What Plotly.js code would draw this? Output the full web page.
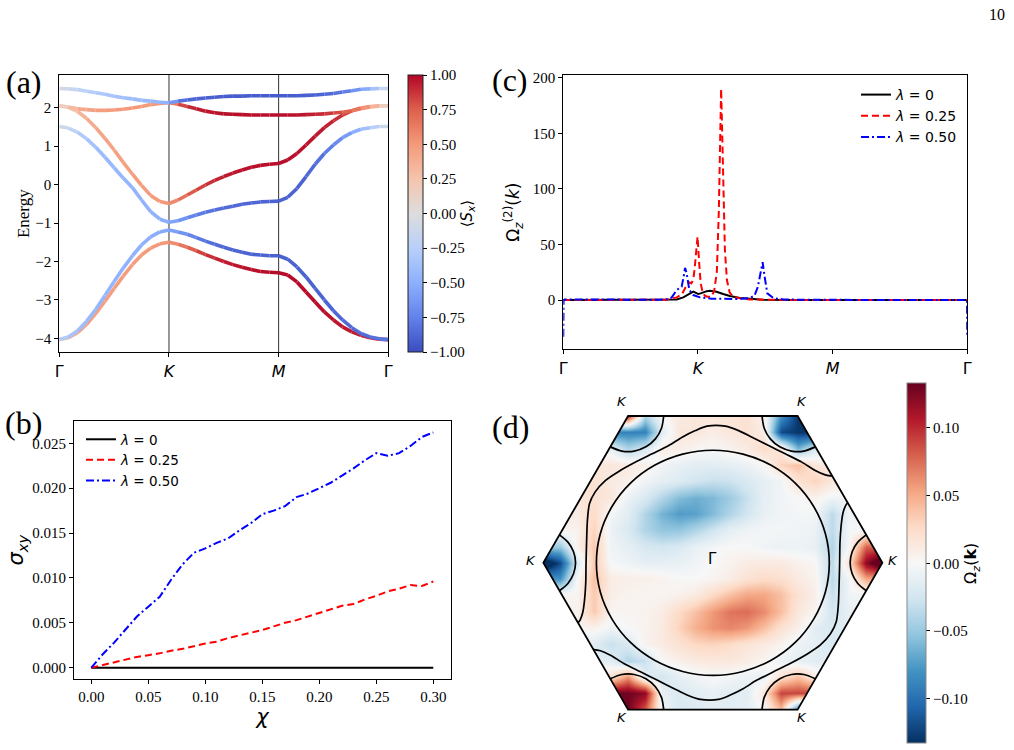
<!DOCTYPE html>
<html><head><meta charset="utf-8">
<script src="https://cdn.plot.ly/plotly-3.0.1.min.js"></script>
<style>html,body{margin:0;padding:0;background:#fff}#chart{width:1014px;height:750px}</style>
</head><body><div id="chart"></div>
<script>
// ---------- (a) band structure ----------
const kPath = [0,0.083,0.167,0.25,0.333,0.417,0.5,0.583,0.667,0.75,0.833,0.917,1,1.083,1.167,1.25,1.333,1.417,1.5,1.583,1.667,1.75,1.833,1.917,2,2.083,2.167,2.25,2.333,2.417,2.5,2.583,2.667,2.75,2.833,2.917,3];
const symPoints = [0,1,2,3];
const symLabels = ['Γ','<i>K</i>','<i>M</i>','Γ'];
const band1E = [-4.03,-3.98,-3.85,-3.63,-3.35,-3.03,-2.70,-2.38,-2.08,-1.83,-1.65,-1.54,-1.50,-1.55,-1.63,-1.72,-1.82,-1.91,-2.00,-2.08,-2.15,-2.21,-2.26,-2.28,-2.29,-2.35,-2.53,-2.79,-3.05,-3.31,-3.52,-3.70,-3.83,-3.92,-3.98,-4.02,-4.03];
const band1S = [0.30,0.38,0.42,0.45,0.46,0.47,0.47,0.48,0.48,0.49,0.50,0.50,0.52,0.60,0.70,0.80,0.86,0.90,0.93,0.95,0.96,0.97,0.97,0.98,0.98,0.98,0.98,0.98,0.97,0.97,0.96,0.95,0.94,0.93,0.92,0.90,0.85];
const band2E = [-4.03,-3.96,-3.80,-3.55,-3.24,-2.88,-2.52,-2.17,-1.85,-1.57,-1.36,-1.23,-1.18,-1.23,-1.29,-1.38,-1.47,-1.55,-1.63,-1.70,-1.76,-1.81,-1.83,-1.85,-1.85,-1.94,-2.14,-2.40,-2.70,-3.00,-3.28,-3.52,-3.72,-3.87,-3.96,-4.01,-4.03];
const band2S = [-0.25,-0.32,-0.38,-0.42,-0.44,-0.45,-0.46,-0.47,-0.48,-0.49,-0.50,-0.52,-0.55,-0.62,-0.70,-0.77,-0.82,-0.85,-0.87,-0.88,-0.89,-0.90,-0.90,-0.90,-0.90,-0.90,-0.90,-0.90,-0.89,-0.89,-0.88,-0.87,-0.86,-0.85,-0.84,-0.82,-0.80];
const band3E = [1.51,1.47,1.36,1.19,0.97,0.71,0.44,0.17,-0.08,-0.40,-0.70,-0.90,-0.98,-0.94,-0.86,-0.79,-0.72,-0.66,-0.61,-0.56,-0.51,-0.48,-0.45,-0.44,-0.43,-0.33,-0.10,0.21,0.53,0.81,1.03,1.22,1.35,1.44,1.48,1.51,1.51];
const band3S = [-0.08,-0.15,-0.25,-0.33,-0.38,-0.42,-0.44,-0.45,-0.46,-0.47,-0.48,-0.50,-0.52,-0.62,-0.70,-0.76,-0.80,-0.83,-0.85,-0.86,-0.87,-0.88,-0.88,-0.89,-0.90,-0.90,-0.90,-0.88,-0.85,-0.80,-0.74,-0.66,-0.56,-0.45,-0.32,-0.18,-0.08];
const band4E = [2.05,2.01,1.90,1.72,1.48,1.20,0.90,0.58,0.27,-0.02,-0.28,-0.44,-0.49,-0.40,-0.27,-0.14,-0.01,0.11,0.21,0.30,0.38,0.45,0.50,0.53,0.55,0.64,0.81,1.03,1.26,1.48,1.66,1.81,1.92,1.99,2.03,2.05,2.05];
const band4S = [0.08,0.18,0.30,0.38,0.42,0.44,0.45,0.46,0.47,0.48,0.49,0.50,0.52,0.62,0.72,0.80,0.86,0.90,0.93,0.95,0.96,0.97,0.97,0.97,0.97,0.97,0.97,0.96,0.95,0.93,0.90,0.86,0.78,0.65,0.48,0.28,0.08];
const band5E = [2.05,2.02,1.97,1.95,1.93,1.93,1.94,1.96,1.99,2.03,2.08,2.11,2.13,2.09,2.03,1.97,1.91,1.87,1.84,1.83,1.82,1.81,1.81,1.81,1.81,1.81,1.81,1.82,1.83,1.84,1.86,1.88,1.92,1.97,2.02,2.04,2.05];
const band5S = [0.08,0.25,0.38,0.44,0.47,0.48,0.49,0.50,0.50,0.50,0.50,0.50,0.50,0.75,0.88,0.93,0.95,0.96,0.97,0.97,0.97,0.97,0.97,0.97,0.97,0.97,0.96,0.94,0.92,0.88,0.84,0.78,0.70,0.60,0.45,0.25,0.08];
const band6E = [2.50,2.49,2.47,2.43,2.39,2.35,2.30,2.26,2.23,2.19,2.17,2.14,2.13,2.17,2.20,2.23,2.25,2.27,2.29,2.30,2.30,2.31,2.31,2.31,2.31,2.31,2.31,2.32,2.33,2.35,2.37,2.41,2.44,2.48,2.49,2.50,2.50];
const band6S = [-0.06,-0.12,-0.18,-0.24,-0.28,-0.32,-0.35,-0.38,-0.40,-0.42,-0.44,-0.46,-0.48,-0.80,-0.86,-0.89,-0.90,-0.91,-0.92,-0.92,-0.92,-0.92,-0.92,-0.92,-0.92,-0.92,-0.92,-0.91,-0.90,-0.88,-0.85,-0.80,-0.72,-0.60,-0.45,-0.25,-0.06];
const spinTicks = [-1,-0.75,-0.5,-0.25,0,0.25,0.5,0.75,1];

// ---------- (b) sigma_xy ----------
const chi = [0,0.01,0.02,0.03,0.04,0.05,0.06,0.07,0.08,0.09,0.10,0.11,0.12,0.13,0.14,0.15,0.16,0.17,0.18,0.19,0.20,0.21,0.22,0.23,0.24,0.25,0.26,0.27,0.28,0.29,0.30];
const sigmaL0 = [0,0,0,0,0,0,0,0,0,0,0,0,0,0,0,0,0,0,0,0,0,0,0,0,0,0,0,0,0,0,0];
const sigmaL25 = [0,0.0003,0.0006,0.0009,0.0012,0.0014,0.0016,0.0019,0.0021,0.0024,0.0027,0.0029,0.0033,0.0036,0.0039,0.0042,0.0046,0.0050,0.0053,0.0057,0.0061,0.0065,0.0069,0.0071,0.0076,0.0080,0.0085,0.0088,0.0092,0.0091,0.0096];
const sigmaL50 = [0,0.0015,0.0028,0.0042,0.0057,0.0068,0.0079,0.0098,0.0115,0.0128,0.0133,0.0139,0.0144,0.0153,0.0161,0.0171,0.0175,0.0180,0.0190,0.0194,0.0200,0.0206,0.0214,0.0222,0.0231,0.0239,0.0236,0.0239,0.0247,0.0257,0.0262];
const chiTicks = [0,0.05,0.10,0.15,0.20,0.25,0.30];
const sigmaTicks = [0,0.005,0.010,0.015,0.020,0.025];

// ---------- (c) Omega_z^(2)(k) ----------
const omL0x = [0,0.4,0.8,0.842,0.891,0.941,0.965,0.985,1.002,1.02,1.039,1.065,1.088,1.115,1.138,1.187,1.237,1.311,1.386,1.485,1.7,2.2,2.6,3.0];
const omL0y = [0,0,0.1,0.6,2.4,6.0,7.5,6.5,5.4,6.0,6.9,8.0,8.4,8.0,7.5,5.4,3.6,1.8,0.9,0.3,0.1,0,0,0];
const omL25x = [0,0.4,0.7,0.768,0.842,0.88,0.91,0.935,0.95,0.965,0.975,0.985,0.997,1.008,1.02,1.035,1.05,1.07,1.1,1.12,1.14,1.155,1.165,1.172,1.18,1.19,1.2,1.215,1.235,1.26,1.3,1.386,1.5,2.0,2.5,3.0];
const omL25y = [0,0,0.1,0.3,2.4,5,12,16,15,18,28,42,57,35,15,7,4,3,3,8,25,80,150,190,150,85,45,18,7,3,1.8,0.6,0.2,0,0,0];
const omL50x = [0,0.002,0.01,0.4,0.7,0.78,0.805,0.842,0.879,0.895,0.904,0.916,0.936,0.965,1.015,1.1,1.187,1.3,1.386,1.42,1.445,1.466,1.48,1.495,1.515,1.56,1.634,1.8,2.2,2.6,2.99,2.998,3.0];
const omL50y = [-33,0,0.5,0.3,0.3,0.8,2.4,9,12,22,29,24,9,4.5,2.4,1.2,0.9,1.0,1.8,4,12,24,34,21,6,1.8,0.6,0.2,0,0,0,0,-33];
const omTicks = [0,50,100,150,200];
const lambdaNames = ['<i>λ</i> = 0','<i>λ</i> = 0.25','<i>λ</i> = 0.50'];

// ---------- (d) Berry curvature map ----------
const kxGrid = [-1,-0.9,-0.8,-0.7,-0.6,-0.5,-0.4,-0.3,-0.2,-0.1,0,0.1,0.2,0.3,0.4,0.5,0.6,0.7,0.8,0.9,1];
const kyGrid = [-0.866,-0.770,-0.674,-0.577,-0.481,-0.385,-0.289,-0.192,-0.096,0,0.096,0.192,0.289,0.385,0.481,0.577,0.674,0.770,0.866];
const omegaZ = [
[0.13,0.13,0.13,0.13,0.13,0.13,0.08,-0.005,-0.02,-0.018,-0.015,-0.015,-0.012,0.0,0.04,-0.10,-0.10,-0.10,-0.10,-0.10,-0.10],
[0.13,0.13,0.13,0.13,0.13,0.13,0.12,-0.01,-0.02,-0.015,-0.01,-0.015,-0.015,0.015,0.09,0.09,0.09,0.09,0.09,0.09,0.09],
[0.02,0.02,0.02,0.02,0.02,0.06,-0.015,-0.025,-0.012,-0.005,0.0,-0.003,-0.008,-0.01,0.02,0.04,0.01,0.01,0.01,0.01,0.01],
[-0.015,-0.015,-0.015,-0.015,-0.015,-0.04,-0.03,0.0,0.008,0.012,0.014,0.014,0.01,0.004,-0.008,-0.012,-0.015,-0.015,-0.015,-0.015,-0.015],
[-0.015,-0.015,-0.015,-0.015,-0.03,-0.02,0.005,0.012,0.02,0.028,0.03,0.025,0.018,0.012,0.005,-0.008,-0.012,-0.02,-0.02,-0.02,-0.02],
[0.005,0.005,0.005,0.005,-0.005,0.0,0.005,0.012,0.03,0.048,0.06,0.065,0.058,0.04,0.02,0.008,-0.015,-0.02,-0.015,-0.015,-0.015],
[0.005,0.005,0.005,0.035,0.003,0.003,0.005,0.01,0.025,0.04,0.058,0.072,0.075,0.063,0.04,0.015,0.003,-0.025,-0.01,-0.01,-0.01],
[0.003,0.003,0.003,0.035,0.008,0.005,0.003,0.003,0.006,0.012,0.026,0.04,0.052,0.052,0.04,0.02,0.008,-0.03,-0.005,-0.005,-0.005],
[-0.08,-0.08,0.0,0.04,0.01,0.008,0.008,0.005,0.0,0.0,0.003,0.01,0.02,0.025,0.022,0.012,0.005,-0.035,-0.005,0.05,0.05],
[-0.16,-0.12,-0.02,0.035,-0.002,-0.006,-0.012,-0.012,-0.01,-0.005,0,0.005,0.01,0.012,0.012,0.006,0.002,-0.035,0.02,0.12,0.16],
[-0.05,-0.05,0.005,0.035,-0.005,-0.012,-0.022,-0.025,-0.02,-0.01,-0.003,0.0,0.0,-0.005,-0.008,-0.008,-0.01,-0.04,0.0,0.08,0.08],
[0.005,0.005,0.005,0.03,-0.008,-0.02,-0.04,-0.052,-0.052,-0.04,-0.026,-0.012,-0.006,-0.003,-0.003,-0.005,-0.008,-0.035,-0.003,-0.003,-0.003],
[0.01,0.01,0.01,0.025,-0.003,-0.015,-0.04,-0.063,-0.075,-0.072,-0.058,-0.04,-0.025,-0.01,-0.005,-0.003,-0.003,-0.035,-0.005,-0.005,-0.005],
[0.015,0.015,0.015,0.02,0.015,-0.008,-0.02,-0.04,-0.058,-0.065,-0.06,-0.048,-0.03,-0.012,-0.005,0.0,0.005,-0.005,-0.005,-0.005,-0.005],
[0.02,0.02,0.02,0.02,0.012,0.008,-0.005,-0.012,-0.018,-0.025,-0.03,-0.028,-0.02,-0.012,-0.005,0.02,0.03,0.015,0.015,0.015,0.015],
[0.015,0.015,0.015,0.015,0.015,0.012,0.008,-0.004,-0.01,-0.014,-0.014,-0.012,-0.008,0.0,0.03,0.04,0.015,0.015,0.015,0.015,0.015],
[-0.01,-0.01,-0.01,-0.01,-0.01,-0.04,-0.02,0.01,0.008,0.003,0.0,0.005,0.012,0.025,0.015,-0.06,-0.02,-0.02,-0.02,-0.02,-0.02],
[-0.09,-0.09,-0.09,-0.09,-0.09,-0.09,-0.09,-0.015,0.015,0.015,0.01,0.015,0.02,0.01,-0.12,-0.13,-0.13,-0.13,-0.13,-0.13,-0.13],
[0.10,0.10,0.10,0.10,0.10,0.10,-0.04,0.0,0.012,0.015,0.015,0.018,0.02,0.005,-0.08,-0.13,-0.13,-0.13,-0.13,-0.13,-0.13]
];
const omegaTicks = [-0.10,-0.05,0,0.05,0.10];
const hexX = [1,0.5,-0.5,-1,-0.5,0.5];
const hexY = [0,0.866,0.866,0,-0.866,-0.866];
// Fermi contours (null separates pieces)
const fsX = [0.687,0.664,0.595,0.486,0.344,0.178,0,-0.178,-0.344,-0.486,-0.595,-0.664,-0.687,-0.664,-0.595,-0.486,-0.344,-0.178,0,0.178,0.344,0.486,0.595,0.664,0.687,null,
 0.711,0.663,0.604,0.525,0.427,0.329,0.231,0.152,0.074,-0.034,-0.103,-0.181,-0.260,-0.358,-0.456,-0.555,-0.633,-0.695,-0.728,-0.740,-0.745,-0.748,-0.750,-0.757,-0.768,-0.782,-0.795,null,
 -0.711,-0.663,-0.604,-0.525,-0.427,-0.329,-0.231,-0.152,-0.074,0.034,0.103,0.181,0.260,0.358,0.456,0.555,0.633,0.695,0.728,0.740,0.745,0.748,0.750,0.757,0.768,0.782,0.795,null,
 0.905,0.855,0.822,0.81,0.822,0.855,0.905,null,
 -0.905,-0.855,-0.822,-0.81,-0.822,-0.855,-0.905,null,
 0.29,0.303,0.339,0.395,0.464,0.537,0.605,null,
 -0.29,-0.303,-0.339,-0.395,-0.464,-0.537,-0.605,null,
 0.29,0.303,0.339,0.395,0.464,0.537,0.605,null,
 -0.29,-0.303,-0.339,-0.395,-0.464,-0.537,-0.605];
const fsY = [0,0.172,0.332,0.470,0.575,0.641,0.664,0.641,0.575,0.470,0.332,0.172,0,-0.172,-0.332,-0.470,-0.575,-0.641,-0.664,-0.641,-0.575,-0.470,-0.332,-0.172,0,null,
 0.511,0.519,0.545,0.594,0.643,0.692,0.741,0.780,0.806,0.806,0.780,0.741,0.692,0.643,0.594,0.539,0.486,0.417,0.348,0.250,0.120,0.000,-0.120,-0.220,-0.295,-0.335,-0.354,null,
 -0.511,-0.519,-0.545,-0.594,-0.643,-0.692,-0.741,-0.780,-0.806,-0.806,-0.780,-0.741,-0.692,-0.643,-0.594,-0.539,-0.486,-0.417,-0.348,-0.250,-0.120,0.000,0.120,0.220,0.295,0.335,0.354,null,
 0.165,0.122,0.065,0,-0.065,-0.122,-0.165,null,
 0.165,0.122,0.065,0,-0.065,-0.122,-0.165,null,
 0.866,0.794,0.731,0.684,0.659,0.659,0.684,null,
 0.866,0.794,0.731,0.684,0.659,0.659,0.684,null,
 -0.866,-0.794,-0.731,-0.684,-0.659,-0.659,-0.684,null,
 -0.866,-0.794,-0.731,-0.684,-0.659,-0.659,-0.684];

// ---------- styling helpers ----------
const cw = [[0,[59,76,192]],[0.125,[98,130,234]],[0.25,[141,176,254]],[0.375,[184,208,249]],[0.5,[221,221,221]],[0.625,[245,196,173]],[0.75,[244,154,123]],[0.875,[222,96,77]],[1,[180,4,38]]];
const coolwarm = cw.map(s => [s[0], 'rgb(' + s[1].join(',') + ')']);
function cwColor(v){
  let t = Math.max(0, Math.min(1, (v + 1) / 2));
  for (let i = 1; i < cw.length; i++) {
    if (t <= cw[i][0]) {
      const a = cw[i-1], b = cw[i], f = (t - a[0]) / (b[0] - a[0]);
      return 'rgb(' + a[1].map((x, j) => Math.round(x + (b[1][j] - x) * f)).join(',') + ')';
    }
  }
  return 'rgb(180,4,38)';
}
const rdbu_r = [[0,'#053061'],[0.1,'#2166ac'],[0.2,'#4393c3'],[0.3,'#92c5de'],[0.4,'#d1e5f0'],[0.5,'#f7f7f7'],[0.6,'#fddbc7'],[0.7,'#f4a582'],[0.8,'#d6604d'],[0.9,'#b2182b'],[1,'#67001f']];

const SERIF = 'Liberation Serif, Times New Roman, serif';
const SANS = 'DejaVu Sans, sans-serif';
const traces = [];

// (a) colored band segments
const bandsE = [band1E, band2E, band3E, band4E, band5E, band6E];
const bandsS = [band1S, band2S, band3S, band4S, band5S, band6S];
bandsE.forEach((E, b) => {
  const S = bandsS[b];
  for (let i = 0; i < kPath.length - 1; i++) {
    traces.push({type:'scatter', mode:'lines', x:[kPath[i], kPath[i+1]], y:[E[i], E[i+1]],
      line:{color: cwColor((S[i] + S[i+1]) / 2), width:3.6}, xaxis:'x', yaxis:'y',
      showlegend:false, hoverinfo:'skip'});
  }
});
// (a) colorbar carrier (invisible markers)
traces.push({type:'scatter', mode:'markers', x:kPath, y:band1E, xaxis:'x', yaxis:'y', showlegend:false, hoverinfo:'skip',
  marker:{size:1, opacity:0, line:{width:0}, color:band1S, colorscale:coolwarm, cmin:-1, cmax:1, showscale:true,
    colorbar:{x:408/1014, xanchor:'left', xpad:0, ypad:0, y:1-213.6/750, yanchor:'middle', len:277, lenmode:'pixels',
      thickness:15, outlinewidth:1, outlinecolor:'#222', tickvals:spinTicks, tickformat:'.2f', ticks:'outside', ticklen:4,
      tickcolor:'#000', tickfont:{family:SERIF, size:15, color:'#000'},
      title:{text:'⟨<i>S</i><sub><i>x</i></sub>⟩', side:'right', font:{family:SANS, size:15, color:'#000'}}}}});

// (b)
const lineStyles = [{color:'#000', width:2, dash:'solid'}, {color:'#ff0000', width:2, dash:'7px,4px'}, {color:'#0000ff', width:2, dash:'8px,3px,2px,3px'}];
[sigmaL0, sigmaL25, sigmaL50].forEach((s, i) => {
  traces.push({type:'scatter', mode:'lines', x:chi, y:s, xaxis:'x2', yaxis:'y2', name:lambdaNames[i], line:lineStyles[i], legend:'legend'});
});
// (c)
[[omL0x, omL0y], [omL25x, omL25y], [omL50x, omL50y]].forEach((d, i) => {
  traces.push({type:'scatter', mode:'lines', x:d[0], y:d[1], xaxis:'x3', yaxis:'y3', name:lambdaNames[i], line:lineStyles[i], legend:'legend2'});
});
// (d)
traces.push({type:'heatmap', x:kxGrid, y:kyGrid, z:omegaZ, xaxis:'x4', yaxis:'y4', zsmooth:'best', zmin:-0.133, zmax:0.133,
  colorscale:rdbu_r, hoverinfo:'skip',
  colorbar:{x:907.3/1014, xanchor:'left', xpad:0, ypad:0, y:1-563.3/750, yanchor:'middle', len:360, lenmode:'pixels',
    thickness:19, outlinewidth:1, outlinecolor:'#888', tickvals:omegaTicks, tickformat:'.2f', ticks:'outside', ticklen:4,
    tickcolor:'#000', tickfont:{family:SERIF, size:15, color:'#000'},
    title:{text:'Ω<sub><i>z</i></sub>(<b>k</b>)', side:'right', font:{family:SANS, size:16, color:'#000'}}}});
traces.push({type:'scatter', mode:'lines', x:fsX, y:fsY, xaxis:'x4', yaxis:'y4', showlegend:false, hoverinfo:'skip',
  line:{color:'#000', width:1.7, shape:'spline', smoothing:0.8}, connectgaps:false});

// shapes
const shapes = [];
[symPoints[1], symPoints[2]].forEach(v => shapes.push({type:'line', xref:'x', yref:'y domain', x0:v, x1:v, y0:0, y1:1, line:{color:'#333', width:1}, layer:'below'}));
let hexPath = '';
hexX.forEach((x, i) => { hexPath += (i ? ' L ' : 'M ') + x + ' ' + hexY[i]; });
hexPath += ' Z';
shapes.push({type:'path', xref:'x4', yref:'y4', path:'M -1.2 -1.1 L 1.2 -1.1 L 1.2 1.1 L -1.2 1.1 Z ' + hexPath, fillcolor:'#fff', fillrule:'evenodd', line:{width:0}, layer:'above'});
shapes.push({type:'path', xref:'x4', yref:'y4', path:hexPath, fillcolor:'rgba(0,0,0,0)', line:{color:'#000', width:1.8}, layer:'above'});

// annotations
const P = (text, px, py, size) => ({text:text, x:px/1014, y:1-py/750, xref:'paper', yref:'paper', xanchor:'center', yanchor:'middle',
  showarrow:false, font:{family:SERIF, size:size, color:'#000'}});
const ann = [P('(a)', 24, 82, 32), P('(b)', 23, 423, 32), P('(c)', 510, 80, 32), P('(d)', 510, 427, 32), P('10', 997, 14, 16),
  {text:'Γ', x:0, y:0.02, xref:'x4', yref:'y4', xanchor:'center', yanchor:'middle', showarrow:false, font:{family:SANS, size:15, color:'#000'}}];
const kLabelPos = [[-0.535,0.95],[0.525,0.95],[-1.075,0.016],[1.065,0.016],[-0.535,-0.91],[0.525,-0.91]];
kLabelPos.forEach(p => ann.push({text:'<i>K</i>', x:p[0], y:p[1], xref:'x4', yref:'y4', xanchor:'center', yanchor:'middle', showarrow:false, font:{family:SANS, size:13, color:'#000'}}));

const frameAxis = {showline:true, mirror:true, linecolor:'#000', linewidth:1, ticks:'outside', ticklen:4, tickcolor:'#000',
  showgrid:false, zeroline:false, automargin:false};

const layout = {
  width:1014, height:750, margin:{l:0, r:0, t:0, b:0, autoexpand:false},
  paper_bgcolor:'#fff', plot_bgcolor:'#fff', showlegend:true,
  xaxis:Object.assign({}, frameAxis, {domain:[59.3/1014, 388.3/1014], range:[0,3], anchor:'y', tickvals:symPoints, ticktext:symLabels,
    tickfont:{family:SANS, size:16, color:'#000'}}),
  yaxis:Object.assign({}, frameAxis, {domain:[1-352.3/750, 1-75/750], range:[-4.36,2.85], anchor:'x', tickvals:[-4,-3,-2,-1,0,1,2],
    tickfont:{family:SERIF, size:15, color:'#000'}, title:{text:'Energy', font:{family:SERIF, size:17, color:'#000'}, standoff:1}}),
  xaxis2:Object.assign({}, frameAxis, {domain:[74/1014, 450.7/1014], range:[-0.0152,0.3153], anchor:'y2', tickvals:chiTicks, tickformat:'.2f',
    tickfont:{family:SERIF, size:15, color:'#000'}, title:{text:'<i>χ</i>', font:{family:SANS, size:21, color:'#000'}, standoff:0}}),
  yaxis2:Object.assign({}, frameAxis, {domain:[1-679.3/750, 1-421/750], range:[-0.00129,0.02748], anchor:'x2', tickvals:sigmaTicks, tickformat:'.3f',
    tickfont:{family:SERIF, size:15, color:'#000'}, title:{text:'<i>σ</i><sub><i>xy</i></sub>', font:{family:SANS, size:21, color:'#000'}, standoff:2}}),
  xaxis3:Object.assign({}, frameAxis, {domain:[563.3/1014, 967.3/1014], range:[0,3], anchor:'y3', tickvals:symPoints, ticktext:symLabels,
    tickfont:{family:SANS, size:16, color:'#000'}}),
  yaxis3:Object.assign({}, frameAxis, {domain:[1-349.3/750, 1-75/750], range:[-44.3,202.4], anchor:'x3', tickvals:omTicks,
    tickfont:{family:SERIF, size:15, color:'#000'}, title:{text:'Ω<sub><i>z</i></sub><sup>(2)</sup>(<i>k</i>)', font:{family:SANS, size:17, color:'#000'}, standoff:8}}),
  xaxis4:{domain:[526.4/1014, 899.3/1014], range:[-1.1,1.1], anchor:'y4', visible:false, showgrid:false, zeroline:false},
  yaxis4:{domain:[1-732.3/750, 1-393.3/750], range:[-1,1], anchor:'x4', visible:false, showgrid:false, zeroline:false},
  legend:{x:81/1014, y:1-424/750, xanchor:'left', yanchor:'top', bgcolor:'rgba(0,0,0,0)', borderwidth:0,
    font:{family:SANS, size:13.5, color:'#000'}, tracegroupgap:0},
  legend2:{x:856/1014, y:1-79/750, xanchor:'left', yanchor:'top', bgcolor:'rgba(0,0,0,0)', borderwidth:0,
    font:{family:SANS, size:14, color:'#000'}, tracegroupgap:0},
  shapes:shapes, annotations:ann
};
Plotly.newPlot('chart', traces, layout, {displayModeBar:false, staticPlot:true});
</script></body></html>
